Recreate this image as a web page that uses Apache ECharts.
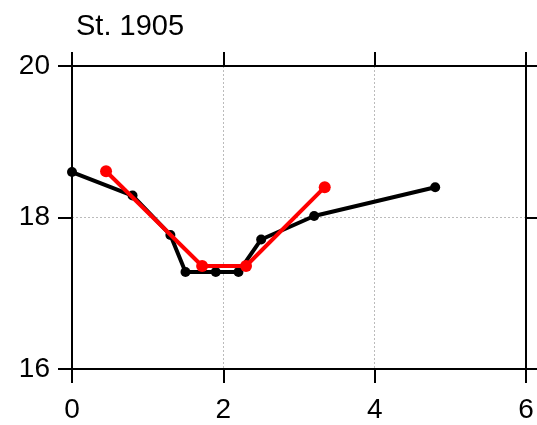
<!DOCTYPE html>
<html>
<head>
<meta charset="utf-8">
<script src="https://cdn.jsdelivr.net/npm/echarts@6/dist/echarts.min.js"></script>
<style>
  html, body { margin: 0; padding: 0; background: #fff; }
  #chart { width: 537px; height: 425px; }
</style>
</head>
<body>
<div id="chart"></div>
<script>
// data
var blackX = [0, 0.8, 1.3, 1.5, 1.9, 2.2, 2.5, 3.2, 4.8];
var blackY = [18.6, 18.29, 17.77, 17.28, 17.28, 17.28, 17.71, 18.02, 18.4];
var redX = [0.45, 1.72, 2.3, 3.34];
var redY = [18.61, 17.36, 17.36, 18.4];

function pairs(xs, ys) {
    var out = [];
    for (var i = 0; i < xs.length; i++) {
        out.push([xs[i], ys[i]]);
    }
    return out;
}

var font = 'Liberation Sans, Arial, Helvetica, sans-serif';
var chart = echarts.init(document.getElementById('chart'));

// shared axis look: black line, ticks pointing out
var axisLine = { show: true, onZero: false, lineStyle: { color: '#000', width: 2 } };
var axisTick = { show: true, inside: false, length: 14, lineStyle: { color: '#000', width: 2 } };
var grid = { show: true, lineStyle: { color: '#bbb', width: 1, type: [2, 2] } };

var option = {
    animation: false,
    title: {
        text: 'St. 1905',
        left: 71,
        top: 7,
        textStyle: { fontFamily: font, fontSize: 29, fontWeight: 'normal', color: '#000' }
    },
    grid: { left: 72, right: 11, top: 66, bottom: 56 },
    xAxis: [{
        type: 'value', min: 0, max: 6, interval: 2,
        axisLine: axisLine, axisTick: axisTick, splitLine: grid,
        axisLabel: { margin: 27, fontFamily: font, fontSize: 28, color: '#000' }
    }, {
        type: 'value', position: 'top', min: 0, max: 6, interval: 2,
        axisLine: axisLine, axisTick: axisTick, splitLine: { show: false },
        axisLabel: { show: false }
    }],
    yAxis: [{
        type: 'value', min: 16, max: 20, interval: 2,
        axisLine: axisLine, axisTick: axisTick, splitLine: grid,
        axisLabel: { margin: 22, fontFamily: font, fontSize: 28, color: '#000' }
    }, {
        type: 'value', position: 'right', min: 16, max: 20, interval: 2,
        axisLine: axisLine, axisTick: axisTick, splitLine: { show: false },
        axisLabel: { show: false }
    }],
    series: [{
        type: 'line',
        data: pairs(blackX, blackY),
        symbol: 'circle', symbolSize: 10,
        lineStyle: { color: '#000', width: 4 },
        itemStyle: { color: '#000' },
        z: 2
    }, {
        type: 'line',
        data: pairs(redX, redY),
        symbol: 'circle', symbolSize: 12,
        lineStyle: { color: '#ff0000', width: 4 },
        itemStyle: { color: '#ff0000' },
        z: 3
    }]
};
chart.setOption(option);
</script>
</body>
</html>
